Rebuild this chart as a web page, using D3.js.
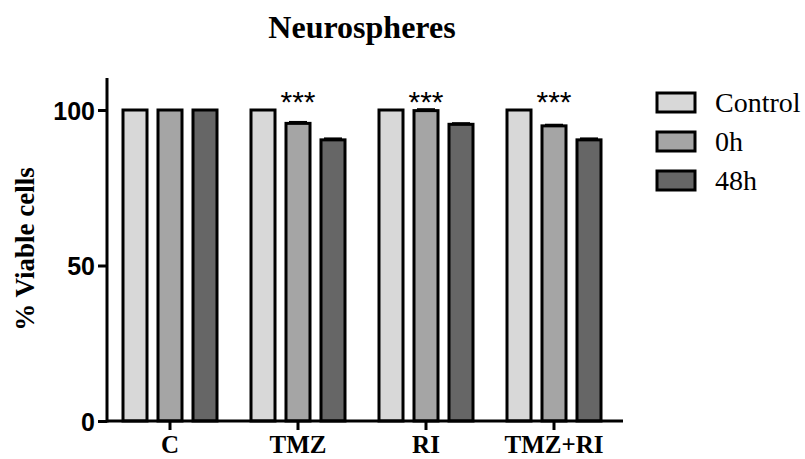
<!DOCTYPE html>
<html>
<head>
<meta charset="utf-8">
<script src="https://cdn.jsdelivr.net/npm/d3@7"></script>
<style>
  body { margin: 0; background: #fff; }
  svg { display: block; }
</style>
</head>
<body>
<script>
// values
const groups = ['C', 'TMZ', 'RI', 'TMZ+RI'];
const series = ['Control', '0h', '48h'];
const controlValues = [100, 100, 100, 100];
const h0Values = [100, 95.7, 99.8, 94.9];
const h48Values = [100, 90.4, 95.4, 90.4];
const errors0h = [0, 0.3, 0.3, 0.2];
const errors48h = [0, 0.3, 0.2, 0.3];
const stars = ['', '***', '***', '***'];
const yTicks = [0, 50, 100];
const colors = ['#d8d8d8', '#a5a5a5', '#666666'];

const width = 805;
const height = 459;

const svg = d3.select('body')
  .append('svg')
  .attr('width', width)
  .attr('height', height);

// build rows for the bars
const valuesBySeries = [controlValues, h0Values, h48Values];
const errorsBySeries = [null, errors0h, errors48h];
const rows = [];
groups.forEach((g, gi) => {
  series.forEach((s, si) => {
    rows.push({
      group: g,
      series: s,
      value: valuesBySeries[si][gi],
      err: errorsBySeries[si] ? errorsBySeries[si][gi] : 0,
    });
  });
});

const x = d3.scaleBand()
  .domain(groups)
  .range([106, 618]);

const xInner = d3.scaleBand()
  .domain(series)
  .range([-47, 47])
  .paddingInner(0.314);

const y = d3.scaleLinear()
  .domain([0, 100])
  .range([421, 110]);

const color = d3.scaleOrdinal()
  .domain(series)
  .range(colors);

// title
svg.append('text')
  .attr('x', 362)
  .attr('y', 38)
  .attr('text-anchor', 'middle')
  .style('font-family', '"Liberation Serif", "Times New Roman", serif')
  .style('font-weight', 'bold')
  .style('font-size', '32px')
  .text('Neurospheres');

// bars
const bars = svg.append('g');
bars.selectAll('rect')
  .data(rows)
  .join('rect')
  .attr('x', (d) => x(d.group) + x.bandwidth() / 2 + xInner(d.series))
  .attr('y', (d) => y(d.value))
  .attr('width', xInner.bandwidth())
  .attr('height', (d) => y(0) - y(d.value))
  .attr('fill', (d) => color(d.series))
  .attr('stroke', '#000')
  .attr('stroke-width', 3);

// small error caps
bars.selectAll('line.err')
  .data(rows.filter((d) => d.err > 0))
  .join('line')
  .attr('class', 'err')
  .attr('x1', (d) => x(d.group) + x.bandwidth() / 2 + xInner(d.series) + 3)
  .attr('x2', (d) => x(d.group) + x.bandwidth() / 2 + xInner(d.series) + xInner.bandwidth() - 3)
  .attr('y1', (d) => y(d.value + d.err))
  .attr('y2', (d) => y(d.value + d.err))
  .attr('stroke', '#000')
  .attr('stroke-width', 3);

// significance stars
svg.append('g')
  .selectAll('text')
  .data(groups.map((g, i) => ({ group: g, label: stars[i] })))
  .join('text')
  .attr('x', (d) => x(d.group) + x.bandwidth() / 2)
  .attr('y', y(100) + 2)
  .attr('text-anchor', 'middle')
  .style('font-family', '"Liberation Sans", Arial, sans-serif')
  .style('font-size', '30px')
  .text((d) => d.label);

// y axis
const yAxis = svg.append('g')
  .attr('transform', 'translate(107,0)')
  .call(d3.axisLeft(y).tickValues(yTicks).tickSize(9).tickPadding(3).tickSizeOuter(0));
yAxis.select('.domain').remove();
yAxis.append('line')
  .attr('y1', 78)
  .attr('y2', 422.5)
  .attr('stroke', '#000')
  .attr('stroke-width', 3);
yAxis.selectAll('.tick line').attr('stroke-width', 3);
yAxis.selectAll('.tick text')
  .style('font-family', '"Liberation Sans", Arial, sans-serif')
  .style('font-weight', 'bold')
  .style('font-size', '25px')
  .attr('dy', '0.36em')
  .attr('fill', '#000');

// x axis
const xAxis = svg.append('g')
  .attr('transform', 'translate(0,421)')
  .call(d3.axisBottom(x).tickSize(9).tickPadding(5).tickSizeOuter(0));
xAxis.select('.domain').remove();
xAxis.append('line')
  .attr('x1', 106)
  .attr('x2', 623)
  .attr('stroke', '#000')
  .attr('stroke-width', 3);
xAxis.selectAll('.tick line').attr('stroke-width', 3);
xAxis.selectAll('.tick text')
  .style('font-family', '"Liberation Serif", "Times New Roman", serif')
  .style('font-weight', 'bold')
  .style('font-size', '25px')
  .attr('fill', '#000');

// y axis label
svg.append('text')
  .attr('transform', 'translate(34,249) rotate(-90)')
  .attr('text-anchor', 'middle')
  .style('font-family', '"Liberation Serif", "Times New Roman", serif')
  .style('font-weight', 'bold')
  .style('font-size', '27px')
  .text('% Viable cells');

// legend
const legend = svg.append('g')
  .selectAll('g')
  .data(series)
  .join('g')
  .attr('transform', (d, i) => `translate(657,${93 + i * 39})`);
legend.append('rect')
  .attr('width', 38)
  .attr('height', 19)
  .attr('fill', (d) => color(d))
  .attr('stroke', '#000')
  .attr('stroke-width', 3);
legend.append('text')
  .attr('x', 58)
  .attr('y', 19)
  .style('font-family', '"Liberation Serif", "Times New Roman", serif')
  .style('font-size', '28px')
  .text((d) => d);
</script>
</body>
</html>
